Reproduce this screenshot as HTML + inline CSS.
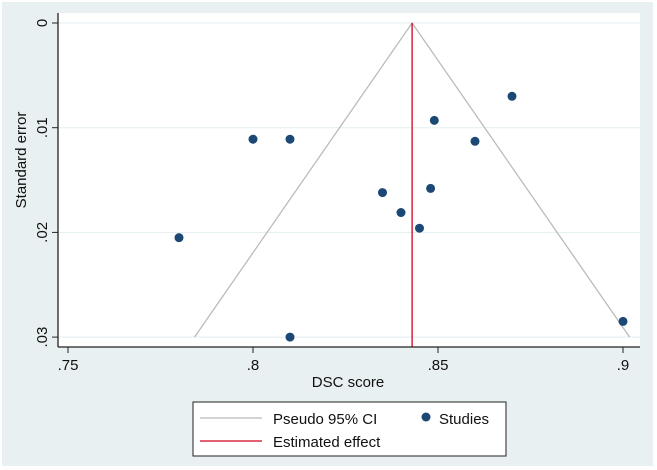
<!DOCTYPE html>
<html><head><meta charset="utf-8"><style>
body{margin:0;background:#fff}
svg{display:block;font-family:"Liberation Sans",sans-serif}
</style></head><body>
<svg width="657" height="470">
<rect x="0" y="0" width="657" height="470" fill="#fff"/>
<rect x="2" y="2" width="651" height="464" fill="#e9f0f2"/>
<rect x="58" y="13" width="582" height="334" fill="#fff"/>
<g id="grid"></g>
<g id="marks"></g>
<line x1="58" y1="13" x2="58" y2="347" stroke="#222" stroke-width="1.3"/>
<line x1="58" y1="347" x2="640" y2="347" stroke="#222" stroke-width="1.3"/>
<g id="axes"></g>
<text x="348" y="387" font-size="15" text-anchor="middle" fill="#111">DSC score</text>
<text transform="translate(26,160) rotate(-90)" font-size="15" text-anchor="middle" fill="#111">Standard error</text>
<g>
<rect x="193" y="402" width="313" height="54" fill="#fff" stroke="#222" stroke-width="1"/>
<line x1="200" y1="418" x2="262" y2="418" stroke="#bbb" stroke-width="1.3"/>
<text x="273" y="424" font-size="15" fill="#111">Pseudo 95% CI</text>
<circle cx="426" cy="417" r="4.5" fill="#1b4874"/>
<text x="439" y="424" font-size="15" fill="#111">Studies</text>
<line x1="200" y1="441" x2="262" y2="441" stroke="#d0021b" stroke-width="1.3"/>
<text x="273" y="447" font-size="15" fill="#111">Estimated effect</text>
</g>
</svg>
<script>
const xTicks=[0.75,0.8,0.85,0.9];
const xTickLabels=[".75",".8",".85",".9"];
const yTicks=[0,0.01,0.02,0.03];
const yTickLabels=["0",".01",".02",".03"];
const studyDSC=[0.87,0.849,0.86,0.848,0.835,0.84,0.845,0.8,0.81,0.78,0.81,0.9];
const studySE=[0.007,0.0093,0.0113,0.0158,0.0162,0.0181,0.0196,0.0111,0.0111,0.0205,0.030,0.0285];
const estimatedEffect=[0.843];
const maxSE=[0.03];
const NS="http://www.w3.org/2000/svg";
function X(v){return 68+(v-0.75)*3700;}
function Y(v){return 23+v*10470;}
function mk(tag,attrs,parent){const e=document.createElementNS(NS,tag);for(const k in attrs)e.setAttribute(k,attrs[k]);document.getElementById(parent).appendChild(e);return e;}
yTicks.forEach((t,i)=>{
 let g=mk('line',{x1:58,x2:640,y1:Y(t),y2:Y(t),stroke:'#e3edf0','stroke-width':1},'grid');
 
 
 let tk=mk('line',{x1:52,x2:58,y1:Y(t),y2:Y(t),stroke:'#222'},'axes');
 
 
 let tx=mk('text',{transform:`translate(47,${Y(t)}) rotate(-90)`,'font-size':15,'text-anchor':'middle',fill:'#111'},'axes');
 tx.textContent=yTickLabels[i];
 
 
});
xTicks.forEach((t,i)=>{
 let tk=mk('line',{x1:X(t),x2:X(t),y1:347,y2:353,stroke:'#222'},'axes');
 
 
 let tx=mk('text',{x:X(t),y:370,'font-size':15,'text-anchor':'middle',fill:'#111'},'axes');
 tx.textContent=xTickLabels[i];
 
 
});
const e=estimatedEffect[0],m=maxSE[0];
const ci=mk('polyline',{points:`${X(e-1.96*m)},${Y(m)} ${X(e)},${Y(0)} ${X(e+1.96*m)},${Y(m)}`,fill:'none',stroke:'#bbb','stroke-width':1.3},'marks');


const el=mk('line',{x1:X(e),x2:X(e),y1:Y(0),y2:347,stroke:'#d0021b','stroke-width':1.3},'marks');


studyDSC.forEach((d,i)=>{
 const c=mk('circle',{cx:X(d),cy:Y(studySE[i]),r:4.5,fill:'#1b4874'},'marks');
 
 
});
</script>
</body></html>
